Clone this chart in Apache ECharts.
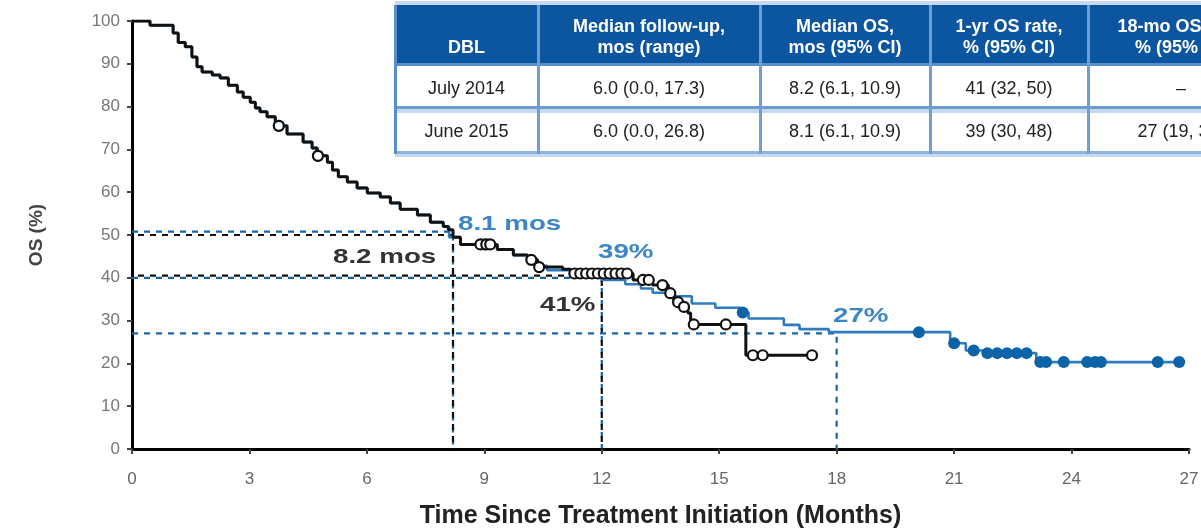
<!DOCTYPE html>
<html><head><meta charset="utf-8">
<script src="https://cdn.jsdelivr.net/npm/echarts@6/dist/echarts.min.js"></script>
<style>html,body{margin:0;padding:0;background:#fff}#c{width:1201px;height:528px}</style>
</head><body><div id="c"></div>
<script>
// ---- axis ticks ----
const xTickValues = [0, 3, 6, 9, 12, 15, 18, 21, 24, 27];
const yTickValues = [0, 10, 20, 30, 40, 50, 60, 70, 80, 90, 100];

// ---- July 2014 DBL (black): step times (months) and OS (%) after each step ----
const july2014Times = [0, 0.46, 1.05, 1.18, 1.36, 1.53, 1.66, 1.79, 2.05, 2.25, 2.46, 2.69, 2.84, 3.02, 3.15, 3.27, 3.45, 3.66, 3.96, 4.37, 4.6, 4.73, 4.99, 5.12, 5.27, 5.5, 5.75, 6.01, 6.34, 6.6, 6.85, 7.29, 7.62, 7.95, 8.08, 8.2, 8.39, 9.33, 9.74, 10.1, 10.36, 11.0, 11.2, 12.8, 13.3, 13.7, 13.84, 14.0, 14.2, 14.27, 15.68, 17.37];
const july2014OS    = [100, 99, 97.2, 95, 94, 91.6, 89.3, 88.1, 87.4, 86.7, 85, 83.4, 82.2, 81, 79.7, 78.8, 77.6, 75.5, 73.6, 71.7, 70.3, 68.5, 67, 65.2, 63.6, 62.4, 61, 59.8, 58.9, 57.5, 56, 54.7, 53, 52, 51.2, 49.5, 47.8, 46.6, 45.3, 44.2, 42.5, 42, 41, 39.5, 38.3, 36.4, 34.3, 33.2, 31.8, 29.1, 21.9, 21.9];
const july2014Censored = [3.75, 4.75, 8.9, 9.05, 9.15, 10.2, 10.4, 11.3, 11.45, 11.6, 11.75, 11.9, 12.05, 12.2, 12.35, 12.5, 12.65, 13.05, 13.2, 13.55, 13.75, 13.95, 14.1, 14.35, 15.17, 15.86, 16.11, 17.37];

// ---- June 2015 DBL (blue) ----
const june2015Times = [0, 0.46, 1.05, 1.18, 1.36, 1.53, 1.66, 1.79, 2.05, 2.25, 2.46, 2.69, 2.84, 3.02, 3.15, 3.27, 3.45, 3.66, 3.96, 4.37, 4.6, 4.73, 4.99, 5.12, 5.27, 5.5, 5.75, 6.01, 6.34, 6.6, 6.85, 7.29, 7.62, 7.95, 8.1, 8.39, 9.33, 9.74, 10.1, 10.36, 10.6, 11.6, 12.0, 12.6, 13.0, 13.3, 13.7, 14.3, 14.9, 15.55, 15.75, 16.65, 17.05, 17.8, 20.9, 21.3, 21.8, 23.1, 26.8];
const june2015OS    = [100, 99, 97.2, 95, 94, 91.6, 89.3, 88.1, 87.4, 86.7, 85, 83.4, 82.2, 81, 79.7, 78.8, 77.6, 75.5, 73.6, 71.7, 70.3, 68.5, 67, 65.2, 63.6, 62.4, 61, 59.8, 58.9, 57.5, 56, 54.7, 53, 52, 49.5, 47.8, 46.6, 45.3, 44.2, 42.8, 41.8, 41, 39.5, 38.5, 37.5, 36.5, 35.7, 34.0, 33.0, 31.9, 30.5, 29.0, 28.0, 27.3, 24.7, 23.0, 22.4, 20.3, 20.3];
const june2015Censored = [3.75, 4.75, 9.0, 15.6, 20.1, 21.0, 21.5, 21.85, 22.1, 22.35, 22.6, 22.85, 23.2, 23.35, 23.8, 24.4, 24.6, 24.75, 26.2, 26.75];

// ---- dashed reference guides [month, OS%] ----
const guideMedianJuly = [[0, 50], [8.2, 50], [8.2, 0]];
const guideMedianJune = [[0, 50.8], [8.2, 50.8], [8.2, 0]];
const guide1yrJuly = [[0, 40.5], [12, 40.5], [12, 0]];
const guide1yrJune = [[0, 40], [12, 40], [12, 0]];
const guide18moJune = [[0, 27], [18, 27], [18, 0]];

// ---- table ----
const tableHeader = [["", "DBL"], ["Median follow-up,", "mos (range)"], ["Median OS,", "mos (95% CI)"], ["1-yr OS rate,", "% (95% CI)"], ["18-mo OS rate,", "% (95% CI)"]];
const tableRows = [
  ["July 2014", "6.0 (0.0, 17.3)", "8.2 (6.1, 10.9)", "41 (32, 50)", "–"],
  ["June 2015", "6.0 (0.0, 26.8)", "8.1 (6.1, 10.9)", "39 (30, 48)", "27 (19, 36)"]
];

function pairs(ts, vs) { return ts.map((t, i) => [t, vs[i]]); }
function lookup(ts, vs, t) { let v = vs[0]; for (let i = 0; i < ts.length; i++) { if (ts[i] <= t) v = vs[i]; } return v; }

const BLUE = '#1467ad', BLACK = '#111', FONT = "'Liberation Sans',Arial,sans-serif";

function guide(data, color, dashOffset) {
  return { type: 'line', data: data, symbol: 'none', silent: true, z: 1,
    lineStyle: { color: color, width: 2.2, type: [6, 6], dashOffset: dashOffset || 0 } };
}

// table graphics
const colEdges = [395, 538, 760, 930, 1088, 1290];
const tbl = [];
tbl.push({ type: 'rect', shape: { x: 395, y: 1, width: 900, height: 4 }, style: { fill: '#c9daef' } });
tbl.push({ type: 'rect', shape: { x: 395, y: 5, width: 900, height: 58 }, style: { fill: '#0b55a1' } });
tbl.push({ type: 'rect', shape: { x: 395, y: 63, width: 900, height: 3 }, style: { fill: '#5a8ec8' } });
tbl.push({ type: 'rect', shape: { x: 395, y: 106, width: 900, height: 3 }, style: { fill: '#6a9bd0' } });
tbl.push({ type: 'rect', shape: { x: 395, y: 109, width: 900, height: 4 }, style: { fill: '#c6d8ee' } });
tbl.push({ type: 'rect', shape: { x: 395, y: 151, width: 900, height: 3 }, style: { fill: '#8fb3dc' } });
tbl.push({ type: 'rect', shape: { x: 395, y: 154, width: 900, height: 3 }, style: { fill: '#c6d8ee' } });
for (let i = 0; i < colEdges.length - 1; i++) {
  tbl.push({ type: 'rect', shape: { x: colEdges[i] - 1, y: 5, width: 3, height: 149 }, style: { fill: i === 0 ? '#5a8ec8' : '#6f9fd2' } });
  const cx = (colEdges[i] + colEdges[i + 1]) / 2 + (i === 4 ? -8 : 0);
  tableHeader[i].forEach((line, k) => {
    tbl.push({ type: 'text', x: cx, y: k === 0 ? 27 : 48, style: { text: line, fill: '#fff', font: "bold 18px " + FONT, align: 'center', verticalAlign: 'middle' } });
  });
  tableRows.forEach((row, r) => {
    tbl.push({ type: 'text', x: cx, y: r === 0 ? 89 : 132, style: { text: row[i], fill: '#222', font: "18px " + FONT, align: 'center', verticalAlign: 'middle' } });
  });
}

const notes = [
  { text: '8.1 mos', x: 458, y: 224, fill: '#3d86c6' },
  { text: '8.2 mos', x: 333, y: 257, fill: '#333' },
  { text: '39%', x: 598, y: 252, fill: '#3d86c6' },
  { text: '41%', x: 540, y: 305, fill: '#333' },
  { text: '27%', x: 833, y: 316, fill: '#3d86c6' }
];
notes.forEach(n => tbl.push({ type: 'text', x: n.x, y: n.y, z: 50, scaleX: 1.32, style: { text: n.text, fill: n.fill, font: "bold 21px " + FONT, align: 'left', verticalAlign: 'middle' } }));

const chart = echarts.init(document.getElementById('c'), null, { renderer: 'canvas' });
chart.setOption({
  animation: false,
  backgroundColor: '#fff',
  grid: { left: 132, right: 12, top: 21, bottom: 79, outerBoundsMode: 'none' },
  xAxis: {
    type: 'value', min: 0, max: 27, interval: 3,
    name: 'Time Since Treatment Initiation (Months)', nameLocation: 'middle', nameGap: 55,
    nameTextStyle: { fontFamily: FONT, fontWeight: 'bold', fontSize: 25, color: '#222' },
    axisLine: { lineStyle: { color: '#000', width: 3 } },
    axisTick: { show: true, length: 5, lineStyle: { color: '#444', width: 2 } },
    axisLabel: { fontFamily: FONT, fontSize: 17, color: '#666', margin: 22, formatter: v => xTickValues.includes(v) ? String(v) : '' },
    splitLine: { show: false }
  },
  yAxis: {
    type: 'value', min: 0, max: 100, interval: 10,
    name: 'OS (%)', nameLocation: 'middle', nameGap: 86,
    nameTextStyle: { fontFamily: FONT, fontWeight: 'bold', fontSize: 19, color: '#444' },
    axisLine: { show: true, lineStyle: { color: '#000', width: 3 } },
    axisTick: { show: true, length: 5, lineStyle: { color: '#444', width: 2 } },
    axisLabel: { fontFamily: FONT, fontSize: 17, color: '#777', margin: 12, formatter: v => yTickValues.includes(v) ? String(v) : '' },
    splitLine: { show: false }
  },
  graphic: tbl,
  series: [
    guide(guideMedianJune, BLUE, 0), guide(guideMedianJuly, BLACK, 6),
    guide(guide1yrJune, BLUE, 0), guide(guide1yrJuly, BLACK, 6),
    guide(guide18moJune, BLUE, 0),
    { name: 'June 2015', type: 'line', step: 'end', data: pairs(june2015Times, june2015OS), symbol: 'none', z: 3,
      lineStyle: { color: '#2f7bbd', width: 2.6 } },
    { name: 'July 2014', type: 'line', step: 'end', data: pairs(july2014Times, july2014OS), symbol: 'none', z: 4,
      lineStyle: { color: BLACK, width: 3 } },
    { name: 'June 2015 censored', type: 'scatter', z: 5, symbol: 'circle', symbolSize: 12,
      data: june2015Censored.map(t => [t, lookup(june2015Times, june2015OS, t)]),
      itemStyle: { color: '#0c63a8', opacity: 1 } },
    { name: 'July 2014 censored', type: 'scatter', z: 6, symbol: 'circle', symbolSize: 10,
      data: july2014Censored.map(t => [t, lookup(july2014Times, july2014OS, t)]),
      itemStyle: { color: '#fff', borderColor: '#111', borderWidth: 2.2, opacity: 1 } }
  ]
});
</script></body></html>
